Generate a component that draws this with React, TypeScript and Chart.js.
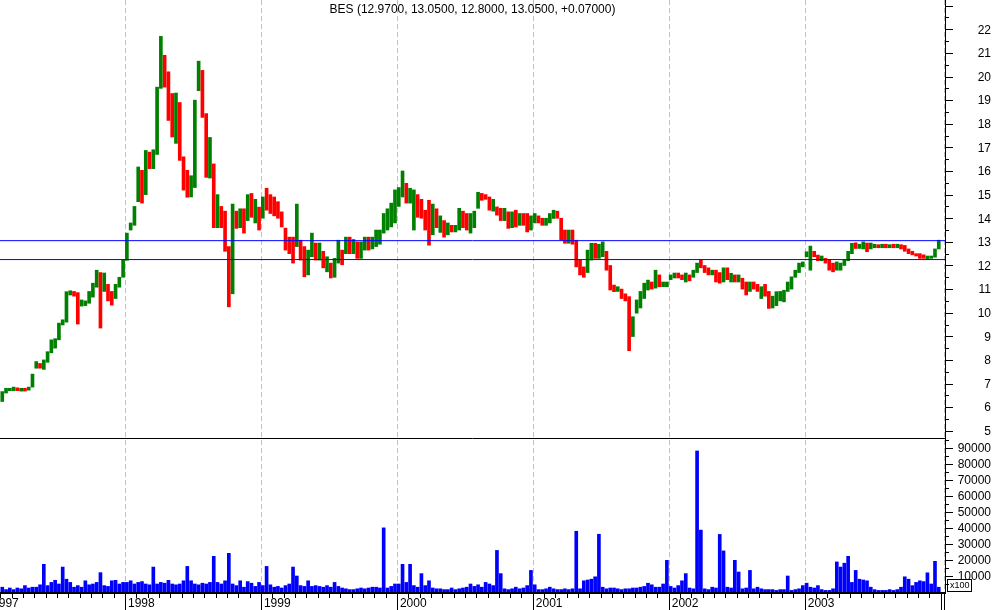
import { useEffect, useRef } from 'react';
import { Chart, registerables } from 'chart.js';

Chart.register(...registerables);

const TITLE = 'BES (12.9700, 13.0500, 12.8000, 13.0500, +0.07000)';
// bars are ten-day periods (3 per month) starting February 1997
const FIRST_YEAR = 1997;
const FIRST_MONTH = 2;

const highs: number[] = [
  // 1997 Feb-Dec
  6.66, 6.80, 6.80, 6.85, 6.82, 6.80, 6.80, 6.85, 7.40, 7.93, 7.85, 8.00, 8.35, 8.85, 8.90, 9.56, 9.70, 10.89,
  10.93, 10.90, 10.85, 10.54, 10.50, 10.90, 11.25, 11.80, 11.70, 11.68, 11.20, 10.90, 11.20, 11.50, 12.22,
  // 1998
  13.37, 13.80, 14.50, 16.17, 16.03, 16.87, 16.80, 16.90, 19.55, 21.70, 20.90, 20.20, 19.28, 19.30, 18.90, 16.60, 16.03, 15.80,
  19.00, 20.65, 20.26, 18.43, 17.42, 16.30, 15.00, 14.50, 14.30, 12.80, 14.60, 14.30, 14.40, 14.40, 15.00, 15.05, 14.80, 14.47,
  // 1999
  14.90, 15.27, 15.00, 14.90, 14.70, 14.27, 13.58, 13.20, 13.20, 14.60, 13.07, 12.80, 12.65, 13.37, 12.95, 12.95, 12.60, 12.37,
  12.10, 12.30, 13.07, 12.65, 13.20, 13.20, 13.10, 13.00, 13.00, 13.20, 13.20, 13.20, 13.50, 13.50, 14.20, 14.40, 14.64, 15.20,
  // 2000
  15.30, 16.00, 15.48, 15.27, 15.20, 15.00, 14.80, 14.34, 14.76, 14.60, 14.40, 14.10, 13.90, 13.80, 13.70, 13.70, 14.42, 14.30,
  14.20, 14.20, 14.30, 15.10, 15.05, 15.00, 14.90, 14.80, 14.48, 14.42, 14.42, 14.27, 14.27, 14.34, 14.20, 14.20, 14.20, 14.10,
  // 2001
  14.20, 14.10, 14.00, 14.00, 14.20, 14.34, 14.30, 14.00, 13.50, 13.50, 13.50, 13.07, 12.23, 11.94, 12.65, 12.94, 12.94, 12.90,
  13.00, 12.60, 12.00, 11.17, 11.10, 11.00, 10.80, 10.68, 9.83, 10.54, 10.90, 11.25, 11.38, 11.30, 11.80, 11.60, 11.30, 11.30,
  // 2002
  11.60, 11.68, 11.68, 11.60, 11.68, 11.60, 11.80, 12.10, 12.23, 12.00, 11.90, 11.80, 11.80, 11.70, 11.90, 11.90, 11.67, 11.60,
  11.60, 11.46, 11.30, 11.30, 11.30, 11.20, 11.10, 11.20, 10.90, 10.70, 10.89, 10.90, 10.95, 11.30, 11.52, 11.80, 12.10, 12.15,
  // 2003
  12.58, 12.82, 12.60, 12.44, 12.40, 12.30, 12.23, 12.10, 12.15, 12.10, 12.23, 12.60, 12.94, 12.96, 12.90, 13.00, 12.95, 12.95,
  12.90, 12.88, 12.90, 12.90, 12.88, 12.90, 12.90, 12.88, 12.85, 12.70, 12.60, 12.50, 12.50, 12.45, 12.40, 12.40, 12.70, 13.07,
];

const lows: number[] = [
  // 1997 Feb-Dec
  6.24, 6.60, 6.70, 6.70, 6.70, 6.68, 6.68, 6.72, 6.85, 7.65, 7.65, 7.60, 7.90, 8.30, 8.50, 8.85, 9.48, 9.60,
  10.75, 10.70, 9.52, 10.28, 10.30, 10.40, 10.66, 11.08, 9.35, 10.90, 10.50, 10.32, 10.60, 11.08, 11.50,
  // 1998
  12.22, 13.50, 13.70, 14.70, 14.64, 15.00, 16.10, 16.10, 16.70, 19.50, 19.55, 18.14, 17.44, 17.17, 16.45, 15.19, 14.89, 14.90,
  15.30, 19.40, 18.27, 15.73, 15.70, 13.60, 13.60, 13.60, 12.60, 10.25, 10.80, 13.57, 13.60, 13.37, 13.90, 14.04, 13.80, 13.50,
  // 1999
  14.00, 14.34, 14.20, 14.10, 14.00, 13.63, 12.65, 12.50, 12.10, 12.80, 12.23, 11.52, 11.60, 12.37, 12.23, 12.23, 11.90, 11.73,
  11.47, 11.50, 12.10, 12.03, 12.50, 12.50, 12.50, 12.30, 12.30, 12.65, 12.65, 12.70, 12.80, 12.90, 13.37, 13.50, 13.63, 13.80,
  // 2000
  14.50, 14.90, 14.64, 14.64, 13.50, 14.04, 14.00, 13.50, 12.86, 13.30, 13.60, 13.40, 13.20, 13.30, 13.42, 13.42, 13.50, 13.60,
  13.50, 13.37, 13.60, 14.42, 14.76, 14.80, 14.34, 14.30, 14.13, 13.90, 13.90, 13.57, 13.60, 13.63, 13.70, 13.70, 13.42, 13.50,
  // 2001
  13.80, 13.80, 13.70, 13.70, 13.80, 13.99, 14.00, 13.07, 12.94, 12.94, 12.90, 11.94, 11.60, 11.50, 11.70, 12.23, 12.30, 12.30,
  12.37, 11.80, 10.96, 10.89, 10.90, 10.60, 10.50, 8.39, 8.99, 9.98, 10.20, 10.60, 10.96, 11.00, 11.04, 11.10, 11.10, 11.10,
  // 2002
  11.40, 11.47, 11.47, 11.40, 11.30, 11.35, 11.50, 11.70, 11.90, 11.70, 11.60, 11.60, 11.30, 11.25, 11.30, 11.40, 11.30, 11.30,
  11.30, 11.00, 10.75, 10.90, 11.00, 10.90, 10.60, 10.70, 10.18, 10.20, 10.30, 10.50, 10.46, 10.90, 11.00, 11.50, 11.70, 11.94,
  // 2003
  12.37, 11.80, 12.37, 12.20, 12.20, 12.10, 11.80, 11.73, 11.80, 11.80, 12.00, 12.20, 12.50, 12.72, 12.72, 12.70, 12.58, 12.70,
  12.75, 12.75, 12.75, 12.75, 12.75, 12.75, 12.75, 12.70, 12.60, 12.50, 12.45, 12.40, 12.30, 12.30, 12.27, 12.30, 12.35, 12.70,
];

const closes: number[] = [
  // 1997 Feb-Dec
  6.60, 6.75, 6.78, 6.80, 6.72, 6.75, 6.72, 6.82, 7.35, 7.85, 7.70, 7.95, 8.30, 8.70, 8.85, 9.50, 9.60, 10.80,
  10.85, 10.80, 10.20, 10.40, 10.45, 10.85, 11.20, 11.50, 11.10, 11.30, 10.70, 10.50, 11.10, 11.40, 12.20,
  // 1998
  13.30, 13.70, 14.40, 16.00, 14.90, 16.70, 16.30, 16.70, 19.30, 20.50, 20.20, 18.60, 18.50, 19.00, 16.80, 15.40, 15.00, 15.50,
  18.90, 20.30, 18.50, 16.20, 16.60, 13.90, 14.20, 13.80, 12.80, 11.00, 14.30, 13.90, 14.20, 13.90, 14.80, 14.30, 14.60, 13.80,
  // 1999
  14.80, 14.60, 14.50, 14.30, 14.20, 13.80, 12.90, 12.70, 12.40, 13.60, 12.50, 12.00, 12.30, 12.80, 12.50, 12.60, 12.00, 12.00,
  11.60, 11.70, 12.90, 12.30, 13.00, 12.70, 12.80, 12.60, 12.70, 13.00, 12.80, 13.00, 13.30, 13.40, 14.00, 14.00, 14.50, 15.00,
  // 2000
  15.20, 15.60, 14.90, 15.00, 15.00, 14.30, 14.20, 13.70, 13.40, 14.30, 13.70, 13.80, 13.50, 13.60, 13.50, 13.60, 14.30, 13.90,
  13.80, 14.10, 14.20, 15.00, 14.90, 14.85, 14.50, 14.60, 14.30, 14.10, 14.20, 13.80, 14.00, 13.80, 14.10, 13.90, 13.70, 13.90,
  // 2001
  14.00, 13.90, 13.85, 13.90, 14.10, 14.20, 14.10, 13.20, 13.10, 13.30, 13.20, 12.10, 11.80, 11.70, 12.50, 12.70, 12.50, 12.60,
  12.80, 12.00, 11.10, 11.00, 11.05, 10.70, 10.60, 9.00, 9.50, 10.40, 10.70, 11.20, 11.20, 11.10, 11.60, 11.20, 11.20, 11.25,
  // 2002
  11.55, 11.60, 11.55, 11.45, 11.60, 11.50, 11.75, 12.05, 12.00, 11.80, 11.70, 11.75, 11.40, 11.30, 11.70, 11.50, 11.50, 11.45,
  11.50, 11.10, 11.00, 11.20, 11.15, 11.00, 11.00, 10.80, 10.40, 10.40, 10.70, 10.80, 10.80, 11.20, 11.45, 11.75, 12.00, 12.10,
  // 2003
  12.50, 12.50, 12.45, 12.30, 12.30, 12.20, 11.90, 11.85, 11.90, 12.00, 12.20, 12.55, 12.90, 12.80, 12.85, 12.90, 12.75, 12.85,
  12.85, 12.80, 12.85, 12.80, 12.85, 12.80, 12.85, 12.75, 12.65, 12.55, 12.50, 12.45, 12.40, 12.35, 12.35, 12.38, 12.65, 13.05,
];

const volumes: number[] = [
  // 1997 Feb-Dec
  3000, 1500, 2500, 1500, 2500, 2000, 4000, 2500, 3000, 3000, 4500, 17300, 4000, 6000, 7300, 5000, 15600, 8000,
  6000, 3000, 4000, 3000, 7000, 4500, 5000, 6000, 12100, 4000, 3500, 7000, 7300, 5000, 6000,
  // 1998
  6000, 7000, 5000, 6000, 6500, 5000, 4500, 15600, 5000, 6000, 5500, 7300, 5000, 4500, 5000, 7000, 16000, 7000,
  5000, 4500, 5500, 5000, 6000, 22300, 6000, 5000, 7000, 24200, 5000, 4000, 7000, 3000, 6500, 5500, 3500, 6000,
  // 1999
  4000, 16000, 4500, 3000, 3500, 2500, 4000, 5000, 15600, 10000, 4000, 3500, 7000, 3500, 4000, 3500, 3000, 4000,
  3000, 6000, 3500, 2500, 2000, 1500, 1500, 2000, 2500, 2000, 2500, 3000, 3000, 2500, 40100, 2500, 3500, 5000,
  // 2000
  5000, 17300, 6000, 17300, 4000, 3000, 11500, 4000, 7000, 2500, 2000, 2000, 1500, 1500, 2500, 1500, 2000, 2500,
  3000, 5000, 3500, 4500, 3000, 6000, 5000, 4000, 26000, 11500, 2000, 1500, 2000, 3000, 2000, 2500, 4000, 13500,
  // 2001
  4500, 1500, 1500, 2000, 3000, 2000, 1500, 1500, 2000, 1500, 2000, 38000, 2000, 7000, 7500, 8000, 9500, 36100,
  3000, 2000, 2500, 2500, 2000, 1500, 2000, 2000, 2500, 2500, 3000, 3500, 5500, 4500, 3000, 3000, 5000, 19800,
  // 2002
  3500, 2500, 4000, 7000, 11500, 2500, 2000, 88200, 38700, 2000, 1500, 3000, 2500, 36000, 25700, 3000, 2500, 19800,
  12500, 2000, 2500, 13500, 2000, 3000, 2000, 1500, 1500, 1500, 1000, 1500, 1500, 10000, 1000, 1500, 2000, 4000,
  // 2003
  5500, 3000, 2500, 4000, 1500, 1000, 1000, 2000, 18800, 15600, 18000, 22300, 6000, 13500, 8000, 7500, 7000, 3000,
  1500, 1000, 1000, 1000, 1500, 1000, 1500, 3000, 9500, 8000, 4000, 6000, 7000, 6500, 12000, 5000, 19200, 3000,
];

const yearLabels = ['1997', '1998', '1999', '2000', '2001', '2002', '2003'];
const priceTickLabels = ['5', '6', '7', '8', '9', '10', '11', '12', '13', '14', '15', '16', '17', '18', '19', '20', '21', '22'];
const volumeTickLabels = ['10000', '20000', '30000', '40000', '50000', '60000', '70000', '80000', '90000'];
const VOLUME_UNIT = 'x100';
const LAST_CLOSE = 13.05;
const SUPPORT_LEVEL = 12.25;

const X_MIN = 1997.0805;
const X_MAX = 2004.032;
const P_MIN = 4.695;
const P_MAX = 23.24;
const V_MAX = 96300;

const FONT = '12px "Liberation Sans", Arial, sans-serif';

function barPosition(i: number): number {
  const m = FIRST_MONTH - 1 + Math.floor(i / 3);
  return FIRST_YEAR + (m + ((i % 3) + 0.5) / 3) / 12;
}

const framePlugin = {
  id: 'frame',
  beforeDatasetsDraw(chart: any) {
    const { ctx, chartArea, scales } = chart;
    const x = scales.x;
    ctx.save();
    ctx.strokeStyle = '#c0c0c0';
    ctx.lineWidth = 1;
    ctx.setLineDash([5, 3]);
    const xs: number[] = [];
    yearLabels.forEach((yl) => xs.push(x.getPixelForValue(Number(yl))));
    xs.push(chartArea.right - 1);
    xs.forEach((px) => {
      if (px < chartArea.left + 2 || px > chartArea.right) return;
      const p = Math.round(px) + 0.5;
      ctx.beginPath();
      ctx.moveTo(p, chartArea.top);
      ctx.lineTo(p, chartArea.bottom);
      ctx.stroke();
    });
    ctx.restore();
  },
  afterDatasetsDraw(chart: any) {
    const { ctx, chartArea, scales } = chart;
    const x = scales.x;
    const y = scales.y;
    const v = scales.vol;
    const R = chartArea.right;
    ctx.save();
    ctx.setLineDash([]);
    ctx.strokeStyle = '#000';
    ctx.fillStyle = '#000';
    ctx.lineWidth = 1;
    // pane separator
    ctx.beginPath();
    ctx.moveTo(0, Math.round(v.top) + 0.5);
    ctx.lineTo(R, Math.round(v.top) + 0.5);
    ctx.stroke();
    // right axis line
    ctx.beginPath();
    ctx.moveTo(R + 0.5, chartArea.top);
    ctx.lineTo(R + 0.5, chartArea.bottom + 1);
    ctx.stroke();
    // bottom axis line
    ctx.lineWidth = 2;
    ctx.beginPath();
    ctx.moveTo(0, chartArea.bottom + 1);
    ctx.lineTo(R + 1, chartArea.bottom + 1);
    ctx.stroke();
    ctx.lineWidth = 1;

    // price ticks
    for (let k = Math.ceil(P_MIN * 2); k <= Math.floor(P_MAX * 2); k++) {
      const val = k / 2;
      const py = Math.round(y.getPixelForValue(val)) + 0.5;
      const len = k % 2 === 0 ? 8 : 4;
      ctx.beginPath();
      ctx.moveTo(R, py);
      ctx.lineTo(R + len, py);
      ctx.stroke();
    }
    // volume ticks
    for (let val = 5000; val < V_MAX; val += 5000) {
      const py = Math.round(v.getPixelForValue(val)) + 0.5;
      const len = val % 10000 === 0 ? 8 : 4;
      ctx.beginPath();
      ctx.moveTo(R, py);
      ctx.lineTo(R + len, py);
      ctx.stroke();
    }
    ctx.font = FONT;
    ctx.textAlign = 'right';
    ctx.textBaseline = 'middle';
    priceTickLabels.forEach((t) => {
      ctx.fillText(t, 991, y.getPixelForValue(Number(t)) + 1);
    });
    volumeTickLabels.forEach((t) => {
      ctx.fillText(t, 991, v.getPixelForValue(Number(t)) + 1);
    });
    // unit box
    ctx.strokeRect(947.5, 579.5, 24, 12);
    ctx.font = '9px "Liberation Sans", Arial, sans-serif';
    ctx.textAlign = 'left';
    ctx.fillText(VOLUME_UNIT, 950, 586);

    // time axis
    const axisY = chartArea.bottom + 1;
    for (let m = 0; m <= 90; m++) {
      const px = x.getPixelForValue(FIRST_YEAR + m / 12);
      if (px < chartArea.left || px > R - 2) continue;
      const p = Math.round(px) + 0.5;
      const isYear = m % 12 === 0;
      ctx.beginPath();
      ctx.moveTo(p, axisY);
      ctx.lineTo(p, isYear ? 610 : axisY + 5);
      ctx.stroke();
    }
    ctx.beginPath();
    ctx.moveTo(R - 0.5, axisY);
    ctx.lineTo(R - 0.5, 610);
    ctx.stroke();
    ctx.font = FONT;
    ctx.textAlign = 'left';
    ctx.textBaseline = 'middle';
    yearLabels.forEach((yl) => {
      const px = x.getPixelForValue(Number(yl));
      ctx.fillText(yl, px + 3, 604);
    });

    // title
    ctx.textAlign = 'center';
    ctx.fillText(TITLE, (chartArea.left + R) / 2, 10);
    ctx.restore();
  },
};

export default function App() {
  const canvasRef = useRef<HTMLCanvasElement | null>(null);

  useEffect(() => {
    document.body.style.margin = '0';
    const canvas = canvasRef.current;
    if (!canvas) return;

    const positions = highs.map((_, i) => barPosition(i));
    const priceData = positions.map((px, i) => ({ x: px, y: [lows[i], highs[i]] }));
    const barColors = closes.map((c, i) => (i === 0 || c >= closes[i - 1] ? '#008000' : '#ff0000'));
    const volumeData = positions.map((px, i) => ({ x: px, y: volumes[i] }));

    const chart = new Chart(canvas, {
      type: 'bar',
      data: {
        datasets: [
          {
            type: 'line',
            label: 'Last close',
            data: [{ x: X_MIN, y: LAST_CLOSE }, { x: X_MAX, y: LAST_CLOSE }],
            yAxisID: 'y',
            borderColor: '#0000ff',
            borderWidth: 1,
            pointRadius: 0,
          },
          {
            type: 'line',
            label: 'Support',
            data: [{ x: X_MIN, y: SUPPORT_LEVEL }, { x: X_MAX, y: SUPPORT_LEVEL }],
            yAxisID: 'y',
            borderColor: '#0000ff',
            borderWidth: 1,
            pointRadius: 0,
          },
          {
            type: 'bar',
            label: 'BES',
            data: priceData,
            yAxisID: 'y',
            backgroundColor: barColors,
            barThickness: 3,
            grouped: false,
          },
          {
            type: 'bar',
            label: 'Volume',
            data: volumeData,
            yAxisID: 'vol',
            backgroundColor: '#0000ff',
            barThickness: 3,
            grouped: false,
          },
        ],
      } as any,
      options: {
        animation: false,
        responsive: false,
        maintainAspectRatio: false,
        devicePixelRatio: 1,
        layout: { padding: { left: 0, right: 49, top: 0, bottom: 18 } },
        plugins: {
          legend: { display: false },
          tooltip: { enabled: false },
          title: { display: false },
        },
        scales: {
          x: { type: 'linear', min: X_MIN, max: X_MAX, display: false, offset: false },
          y: {
            type: 'linear',
            position: 'right',
            min: P_MIN,
            max: P_MAX,
            display: false,
            stack: 'panes',
            stackWeight: 438,
            weight: 0,
          },
          vol: {
            type: 'linear',
            position: 'right',
            min: 0,
            max: V_MAX,
            display: false,
            stack: 'panes',
            stackWeight: 154,
            weight: 1,
          },
        },
      } as any,
      plugins: [framePlugin],
    });

    return () => chart.destroy();
  }, []);

  return (
    <div style={{ width: 994, height: 610, background: '#fff' }}>
      <canvas ref={canvasRef} width={994} height={610} style={{ display: 'block', width: 994, height: 610 }} />
    </div>
  );
}
